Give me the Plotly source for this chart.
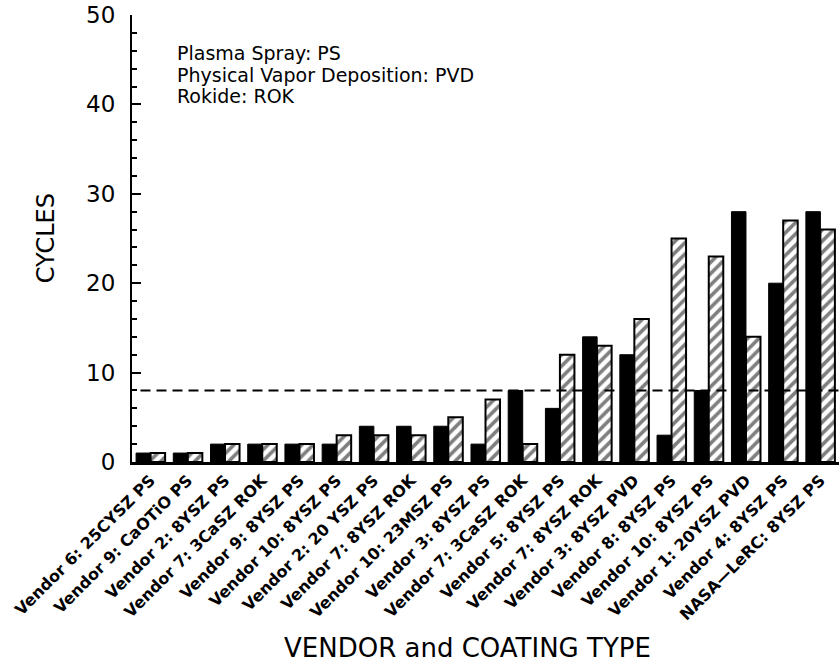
import plotly.graph_objects as go

categories = [
    "Vendor 6: 25CYSZ PS", "Vendor 9: CaOTiO PS", "Vendor 2: 8YSZ PS",
    "Vendor 7: 3CaSZ ROK", "Vendor 9: 8YSZ PS", "Vendor 10: 8YSZ PS",
    "Vendor 2: 20 YSZ PS", "Vendor 7: 8YSZ ROK", "Vendor 10: 23MSZ PS",
    "Vendor 3: 8YSZ PS", "Vendor 7: 3CaSZ ROK", "Vendor 5: 8YSZ PS",
    "Vendor 7: 8YSZ ROK", "Vendor 3: 8YSZ PVD", "Vendor 8: 8YSZ PS",
    "Vendor 10: 8YSZ PS", "Vendor 1: 20YSZ PVD", "Vendor 4: 8YSZ PS",
    "NASA—LeRC: 8YSZ PS",
]
solid_values = [1, 1, 2, 2, 2, 2, 4, 4, 4, 2, 8, 6, 14, 12, 3, 8, 28, 20, 28]
hatched_values = [1, 1, 2, 2, 2, 3, 3, 3, 5, 7, 2, 12, 13, 16, 25, 23, 14, 27, 26]
threshold = 8
y_ticks = [0, 10, 20, 30, 40, 50]
legend_lines = ["Plasma Spray: PS", "Physical Vapor Deposition: PVD", "Rokide: ROK"]

FONT = "DejaVu Sans"
positions = list(range(len(categories)))

fig = go.Figure()
fig.add_trace(go.Bar(
    x=positions, y=solid_values, name="solid",
    marker=dict(color="black", line=dict(color="black", width=1)),
))
fig.add_trace(go.Bar(
    x=positions, y=hatched_values, name="hatched",
    marker=dict(color="white", line=dict(color="black", width=2),
                pattern=dict(shape="/", fgcolor="black", bgcolor="white",
                             size=8, solidity=0.45, fillmode="overlay")),
))

fig.add_shape(type="line", xref="paper", yref="y", x0=0.012, x1=1,
              y0=threshold, y1=threshold,
              line=dict(color="black", width=2, dash="10px,6px"))

for i, txt in enumerate(legend_lines):
    fig.add_annotation(x=0.061, y=0.914 - i * 0.048, xref="paper", yref="paper",
                       text=txt, showarrow=False, xanchor="left", yanchor="middle",
                       font=dict(family=FONT, size=19, color="black"))

fig.add_annotation(x=0.475, y=-0.416, xref="paper", yref="paper",
                   text="VENDOR and COATING TYPE", showarrow=False,
                   xanchor="center", yanchor="middle",
                   font=dict(family=FONT, size=26, color="black"))
fig.add_annotation(x=-0.122, y=0.5, xref="paper", yref="paper",
                   text="CYCLES", showarrow=False, textangle=-90,
                   xanchor="center", yanchor="middle",
                   font=dict(family=FONT, size=24, color="black"))

fig.update_layout(
    width=840, height=666,
    margin=dict(l=132, r=1, t=15, b=204),
    paper_bgcolor="white", plot_bgcolor="white",
    barmode="group", bargap=0.22, bargroupgap=0.0,
    showlegend=False,
    font=dict(family=FONT, color="black"),
)
fig.update_xaxes(
    showline=True, linecolor="black", linewidth=2.5,
    ticks="", tickangle=-45, showgrid=False, zeroline=False,
    tickmode="array", tickvals=positions, ticktext=categories,
    tickfont=dict(family=FONT, size=16, color="black", weight="bold"),
    range=[-0.5, len(categories) - 0.5],
)
fig.update_yaxes(
    range=[0, 50], tickvals=y_ticks, showline=True, linecolor="black", linewidth=2,
    ticks="inside", ticklen=9, tickwidth=2, tickcolor="black",
    minor=dict(dtick=2, ticks="inside", ticklen=5, tickwidth=1.5, tickcolor="black"),
    showgrid=False, zeroline=False,
    tickfont=dict(family=FONT, size=23, color="black"),
    ticklabelstandoff=10,
)

fig.write_html("out.html")
